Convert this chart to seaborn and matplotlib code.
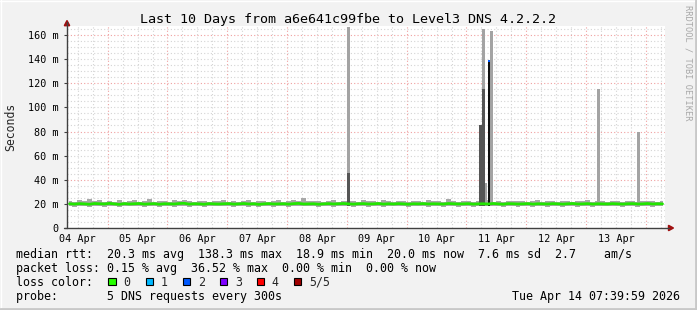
import numpy as np
import pandas as pd
import matplotlib
matplotlib.use("Agg")
import matplotlib.pyplot as plt
import seaborn as sns
from matplotlib.lines import Line2D
from matplotlib.patches import Rectangle, Polygon

# ---------------- data ----------------
title = "Last 10 Days from a6e641c99fbe to Level3 DNS 4.2.2.2"
day_labels = ["04 Apr", "05 Apr", "06 Apr", "07 Apr", "08 Apr",
              "09 Apr", "10 Apr", "11 Apr", "12 Apr", "13 Apr"]
y_ticks = [0, 20, 40, 60, 80, 100, 120, 140, 160]

# hours since start (Apr 4 07:40), one sample every 2 hours
hours = [1 + 2 * i for i in range(120)]

median_ms = [
    20.1, 19.8, 20.2, 20.0, 19.7, 20.3, 20.1, 19.9, 20.4, 20.0,
    19.6, 20.2, 19.9, 20.1, 20.3, 19.8, 20.0, 20.2, 19.7, 20.1,
    20.0, 19.9, 20.3, 20.5, 19.8, 20.1, 20.0, 19.7, 20.2, 20.0,
    19.9, 20.1, 20.2, 19.8, 20.0, 20.3, 19.9, 20.1, 19.6, 20.0,
    20.2, 19.9, 20.0, 20.1, 19.8, 20.2, 20.4, 19.9, 20.0, 20.1,
    19.7, 20.0, 20.2, 19.9, 20.1, 20.3, 20.0, 19.8, 20.1, 20.2,
    19.9, 20.0, 20.3, 19.8, 20.1, 19.9, 20.2, 20.0, 19.7, 20.1,
    20.0, 20.2, 19.9, 20.1, 20.0, 19.8, 20.3, 20.1, 19.9, 20.0,
    20.2, 19.8, 20.0, 20.1, 19.9, 20.3, 20.0, 19.7, 20.2, 20.1,
    19.9, 20.0, 20.2, 19.8, 20.1, 20.0, 19.9, 20.2, 20.0, 19.8,
    20.1, 20.3, 19.9, 20.0, 20.2, 19.8, 20.1, 20.0, 19.9, 20.2,
    20.0, 19.8, 20.1, 20.2, 19.9, 20.0, 20.3, 19.9, 20.1, 20.0,
]

smoke_hi_ms = [
    22.5, 21.8, 23.0, 22.1, 24.0, 22.8, 23.4, 21.9, 22.3, 21.7,
    22.9, 21.6, 22.4, 23.1, 21.8, 22.2, 24.3, 21.5, 22.6, 22.0,
    21.9, 23.2, 22.1, 23.6, 22.4, 21.7, 22.8, 22.0, 21.6, 22.5,
    22.2, 23.0, 21.8, 22.6, 21.9, 22.4, 23.3, 21.7, 22.1, 22.8,
    21.6, 22.3, 22.9, 21.8, 22.2, 23.5, 22.0, 24.8, 22.6, 22.1,
    22.4, 21.9, 22.7, 23.0, 21.8, 22.3, 22.0, 22.6, 21.7, 22.9,
    22.1, 22.5, 21.8, 23.1, 22.0, 21.6, 22.4, 22.8, 21.9, 22.3,
    22.6, 21.8, 23.4, 22.0, 22.2, 21.7, 24.2, 22.1, 21.8, 22.5,
    22.3, 21.9, 22.7, 22.0, 23.2, 21.8, 22.4, 21.6, 22.8, 22.1,
    22.0, 22.6, 21.7, 22.3, 22.9, 21.8, 22.2, 22.5, 21.9, 22.7,
    22.4, 21.8, 22.6, 22.0, 23.1, 21.9, 22.3, 22.8, 21.7, 22.2,
    22.5, 21.9, 22.8, 22.1, 21.7, 22.4, 22.0, 22.6, 21.8, 22.3,
]

smoke_lo_ms = [
    18.2, 17.6, 18.5, 18.0, 17.3, 18.4, 18.1, 17.8, 18.6, 18.0,
    17.5, 18.3, 17.9, 18.2, 18.5, 17.7, 18.0, 18.4, 17.4, 18.1,
    18.0, 17.8, 18.4, 18.6, 17.6, 18.2, 18.0, 17.5, 18.3, 18.1,
    17.9, 18.2, 18.3, 17.7, 18.0, 18.5, 17.8, 18.2, 17.4, 18.0,
    18.3, 17.8, 18.0, 18.2, 17.6, 18.3, 18.5, 17.9, 18.1, 18.2,
    17.6, 18.0, 18.3, 17.8, 18.2, 18.4, 18.0, 17.7, 18.2, 18.3,
    17.8, 18.1, 18.4, 17.7, 18.2, 17.9, 18.3, 18.0, 17.6, 18.2,
    18.0, 18.3, 17.8, 18.2, 18.1, 17.7, 18.4, 18.2, 17.8, 18.0,
    18.3, 17.7, 18.1, 18.2, 17.9, 18.4, 18.0, 17.6, 18.3, 18.1,
    17.8, 18.0, 18.3, 17.7, 18.2, 18.1, 17.8, 18.3, 18.0, 17.7,
    18.2, 18.4, 17.8, 18.0, 18.3, 17.7, 18.2, 18.0, 17.9, 18.3,
    18.0, 17.7, 18.2, 18.3, 17.8, 18.1, 18.4, 17.8, 18.2, 18.0,
]

# outlier columns (hours since start)
spike_hours = [112.85, 166.1, 167.2, 167.9, 169.3, 170.4, 213.3, 229.3]
spike_light_ms = [167.0, 0.0, 165.0, 37.0, 0.0, 163.0, 115.0, 79.6]
spike_dark_ms = [45.6, 85.0, 115.0, 0.0, 0.0, 0.0, 0.0, 0.0]
spike_black_ms = [0.0, 0.0, 0.0, 0.0, 138.0, 0.0, 0.0, 0.0]
loss_point_hour = [169.3]
loss_point_ms = [138.3]

legend_lines = [
    "median rtt:  20.3 ms avg  138.3 ms max  18.9 ms min  20.0 ms now  7.6 ms sd  2.7    am/s",
    "packet loss: 0.15 % avg  36.52 % max  0.00 % min  0.00 % now",
    "loss color:",
    "probe:       5 DNS requests every 300s",
]
stamp = "Tue Apr 14 07:39:59 2026"
loss_labels = ["0", "1", "2", "3", "4", "5/5"]
loss_colors = ["#26ff00", "#00b8ff", "#0059ff", "#7e00ff", "#ff0000", "#a00000"]

# ---------------- figure ----------------
sns.set_style("white")
plt.rcParams["font.family"] = ["DejaVu Sans Mono", "DejaVu Sans"]

W, H = 697, 310
fig = plt.figure(figsize=(W / 100, H / 100), dpi=100, facecolor="#f2f2f2")


def fx(px):
    return px / W


def fy(py):
    return 1 - py / H


L, R, T, B = 67, 665, 26, 228
ax = fig.add_axes([fx(L), fy(B), fx(R) - fx(L), fy(T) - fy(B)])
ax.set_facecolor("white")
ax.set_xlim(0, 240)
ax.set_ylim(0, 167.5)
for s in ax.spines.values():
    s.set_visible(False)

# grid
start_noon = 4 + 20 / 60  # Apr 4 12:00 in hours since start
for i in range(40):
    h = start_noon + 6 * i
    if h >= 240:
        break
    is_day = (i % 4) == 2
    ax.axvline(h, color="#f0a0a0" if is_day else "#d4d4d4",
               lw=0.8, ls=(0, (1, 2)), zorder=0)
for v in range(5, 170, 5):
    ax.axhline(v, color="#f0a0a0" if v % 40 == 0 else "#d4d4d4",
               lw=0.8, ls=(0, (1, 2)), zorder=0)

df = pd.DataFrame({"hours": hours, "median": median_ms,
                   "lo": smoke_lo_ms, "hi": smoke_hi_ms})

# smoke
ax.fill_between(df["hours"], df["lo"], df["hi"], step="mid",
                color="#a8a8a8", lw=0, zorder=2)

# outlier bars
sp = pd.DataFrame({"h": spike_hours, "light": spike_light_ms,
                   "dark": spike_dark_ms, "black": spike_black_ms})
base = 18.0
m = sp["light"] > 0
ax.bar(sp["h"][m], sp["light"][m] - base, bottom=base, width=1.1,
       color="#a3a3a3", lw=0, zorder=3)
m = sp["dark"] > 0
ax.bar(sp["h"][m], sp["dark"][m] - base, bottom=base, width=1.1,
       color="#555555", lw=0, zorder=4)
m = sp["black"] > 0
ax.bar(sp["h"][m], sp["black"][m] - base, bottom=base, width=0.9,
       color="#111111", lw=0, zorder=4)

# median line
sns.lineplot(data=df, x="hours", y="median", ax=ax, color="#22e600",
             lw=2, zorder=5, legend=False)
ax.plot(loss_point_hour, loss_point_ms, "s", color="#0059ff", ms=1.6,
        mew=0, zorder=6)

# ticks
ax.set_xticks([start_noon + 24 * i for i in range(len(day_labels))])
ax.set_xticklabels(day_labels)
ax.set_yticks(y_ticks)
ax.set_yticklabels(["0" if v == 0 else f"{v} m" for v in y_ticks])
ax.tick_params(axis="x", length=0, pad=4, labelsize=7.3, labelcolor="#000000")
ax.tick_params(axis="y", length=2, width=0.8, color="#404040", pad=4.3,
               labelsize=7.3, labelcolor="#000000", left=True)
ax.set_xlabel("")
ax.set_ylabel("")

# axis lines with arrows
axc = "#404040"
fig.add_artist(Line2D([fx(L), fx(L)], [fy(B), fy(22)], color=axc, lw=1,
                      transform=fig.transFigure))
fig.add_artist(Line2D([fx(L - 3), fx(669)], [fy(B), fy(B)], color=axc, lw=1,
                      transform=fig.transFigure))
fig.add_artist(Polygon([[fx(64.3), fy(25.7)], [fx(69.7), fy(25.7)], [fx(67), fy(20.5)]],
                       closed=True, color="#a01010", transform=fig.transFigure))
fig.add_artist(Polygon([[fx(668.5), fy(225.3)], [fx(668.5), fy(230.7)], [fx(673.5), fy(228)]],
                       closed=True, color="#a01010", transform=fig.transFigure))

# frame shading
fig.add_artist(Line2D([0, 1], [fy(0.5), fy(0.5)], color="#ffffff", lw=1, transform=fig.transFigure))
fig.add_artist(Line2D([fx(0.5), fx(0.5)], [0, 1], color="#ffffff", lw=1, transform=fig.transFigure))
fig.add_artist(Line2D([0, 1], [fy(309), fy(309)], color="#c8c8c8", lw=2, transform=fig.transFigure))
fig.add_artist(Line2D([fx(696), fx(696)], [0, 1], color="#c8c8c8", lw=2, transform=fig.transFigure))

# texts
fig.text(fx(348), fy(19), title, ha="center", va="center", fontsize=9.6, color="#000000")
fig.text(fx(11), fy(127), "Seconds", rotation=90, ha="center", va="center", fontsize=8.3)
fig.text(fx(688), fy(5), "RRDTOOL / TOBI OETIKER", rotation=-90, ha="center", va="top",
         fontsize=6.2, color="#a8a8a8")

fs = 8.4
for yy, s in zip([254.3, 268.3, 282.3, 296.3], legend_lines):
    fig.text(fx(16.4), fy(yy), s, ha="left", va="center", fontsize=fs, color="#000000")
fig.text(fx(680.5), fy(296.3), stamp, ha="right", va="center",
         fontsize=fs, color="#000000")

box_x = [108, 145.5, 182.5, 219.5, 256.5, 293.5]
for bx, lab, col in zip(box_x, loss_labels, loss_colors):
    fig.add_artist(Rectangle((fx(bx), fy(285)), 7.5 / W, 7.5 / H, facecolor=col,
                             edgecolor="#000000", lw=0.8, transform=fig.transFigure))
    fig.text(fx(bx + 15.3), fy(282.3), lab, ha="left", va="center", fontsize=fs)

fig.savefig("out.png", dpi=100, facecolor=fig.get_facecolor())
